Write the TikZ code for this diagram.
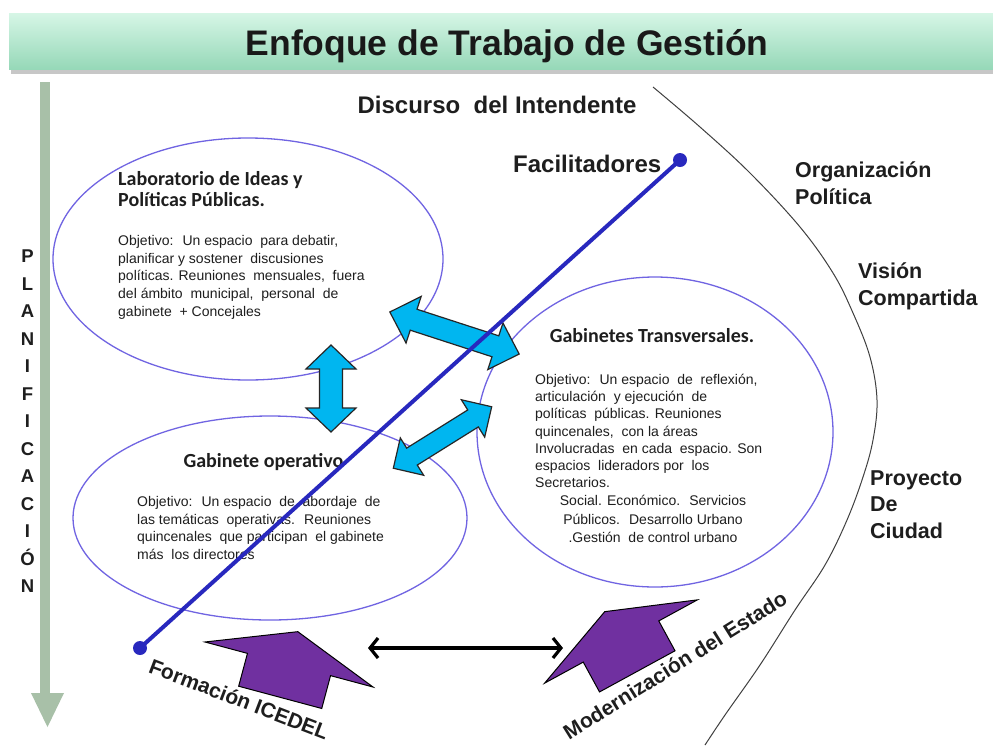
\documentclass[tikz,border=0pt]{standalone}
\usepackage{fontspec}
\setmainfont{Liberation Sans}
\newfontfamily\calib{Carlito}
\usetikzlibrary{shapes.geometric,arrows.meta}
\definecolor{ellblue}{RGB}{112,100,226}
\definecolor{lineblue}{RGB}{40,40,190}
\definecolor{cyanfill}{RGB}{0,182,240}
\definecolor{purp}{RGB}{112,48,160}
\definecolor{sage}{RGB}{168,192,168}
\definecolor{txt}{RGB}{30,30,30}
\definecolor{bartop}{RGB}{214,246,230}
\definecolor{barbot}{RGB}{150,216,184}
\newcommand\fatarrow[7]{%
  \begin{scope}[shift={(#1,#2)},rotate=#3]
    \draw[fat] ({-#4/2},0) -- ({-#4/2+#7},{#5/2}) -- ({-#4/2+#7},{#6/2}) -- ({#4/2-#7},{#6/2}) -- ({#4/2-#7},{#5/2}) -- ({#4/2},0) -- ({#4/2-#7},{-#5/2}) -- ({#4/2-#7},{-#6/2}) -- ({-#4/2+#7},{-#6/2}) -- ({-#4/2+#7},{-#5/2}) -- cycle;
  \end{scope}}
\newcommand\housearrow[3]{%
  \begin{scope}[shift={(#1,#2)},rotate=#3]
    \draw[house] (-87,0) -- (0,-34) -- (87,0) -- (43,0) -- (43,34) -- (-43,34) -- (-43,0) -- cycle;
  \end{scope}}
\begin{document}
\begin{tikzpicture}[x=1pt,y=-1pt,
  ell/.style={ellipse,draw=ellblue,line width=1.3pt,inner sep=0pt},
  ttl/.style={font=\calib\bfseries\fontsize{20}{21.5}\selectfont,text=txt,inner sep=0pt,align=left},
  body/.style={font=\fontsize{14}{17.7}\selectfont,text=txt,inner sep=0pt,align=left},
  side/.style={font=\bfseries\fontsize{21.5}{26.5}\selectfont,text=txt,inner sep=0pt,align=left,anchor=north west},
  rot/.style={font=\bfseries\fontsize{21}{22}\selectfont,text=txt,inner sep=0pt},
  fat/.style={fill=cyanfill,draw=black!85,line width=1.2pt,line join=miter},
  house/.style={fill=purp,draw=black,line width=1pt,line join=miter},
  dot/.style={circle,fill=lineblue,minimum size=14pt,inner sep=0pt},
]
\useasboundingbox (0,0) rectangle (993,745);
\fill[white] (0,0) rectangle (993,745);
% title bar
\fill[black!22] (11,17) rectangle (993,74);
\shade[top color=bartop,bottom color=barbot] (9,13) rectangle (993,69);
\node[font=\bfseries\fontsize{35.5}{38}\selectfont,text=black!90,inner sep=0pt,anchor=base] (title) at (507,55) {Enfoque de Trabajo de Gestión};
% planificacion arrow
\fill[sage] (40,82) rectangle (50,695);
\fill[sage] (31,693) -- (64,693) -- (47.5,727) -- cycle;
\node[font=\bfseries\fontsize{18.5}{27.5}\selectfont,text=txt,inner sep=0pt,align=center,anchor=north] (plan) at (27.5,250) {P\\L\\A\\N\\I\\F\\I\\C\\A\\C\\I\\Ó\\N};
% boundary curve
\draw[black!75,line width=1pt] plot[smooth,tension=0.6] coordinates {(653,87) (700,127) (750,173) (800,227) (833,273) (853,313) (870,357) (877,400) (873,440) (863,477) (847,520) (825,565) (795,610) (760,665) (725,715) (705,745)};
% ellipses
\node[ell,minimum width=390pt,minimum height=242pt] (lab) at (248,259) {};
\node[ell,minimum width=394pt,minimum height=204pt] (ops) at (270,518) {};
\node[ell,minimum width=356pt,minimum height=310pt] (trans) at (655,432) {};
% texts in ellipses
\node[ttl,anchor=north west] (labT) at (118,171) {Laboratorio de Ideas y\\Políticas Públicas.};
\node[body,anchor=north west] (labB) at (118,235) {Objetivo:~ Un espacio~ para debatir,\\planificar y sostener~ discusiones\\políticas. Reuniones~ mensuales,~ fuera\\del ámbito~ municipal,~ personal~ de\\gabinete~ + Concejales};
\node[ttl,anchor=base] (transT) at (652,342) {Gabinetes Transversales.};
\node[body,font=\fontsize{14}{17.2}\selectfont,anchor=north west] (transB) at (535,374) {Objetivo:~ Un espacio~ de~ reflexión,\\articulación~ y ejecución~ de\\políticas~ públicas. Reuniones\\quincenales,~ con la áreas\\Involucradas~ en cada~ espacio. Son\\espacios~ lideradors por~ los\\Secretarios.};
\node[body,font=\fontsize{14}{18.5}\selectfont,align=center,anchor=north] (transC) at (653,495) {Social. Económico.~ Servicios\\Públicos.~ Desarrollo Urbano\\.Gestión~ de control urbano};
\node[ttl,anchor=base] (opsT) at (263.5,467) {Gabinete operativo};
\node[body,anchor=north west] (opsB) at (137,496) {Objetivo:~ Un espacio~ de~ abordaje~ de\\las temáticas~ operativas.~ Reuniones\\quincenales~ que participan~ el gabinete\\más~ los directores};
% top labels
\node[font=\bfseries\fontsize{24}{26}\selectfont,text=txt,inner sep=0pt,anchor=base] (disc) at (497,113) {Discurso~ del Intendente};
\node[font=\bfseries\fontsize{24}{26}\selectfont,text=txt,inner sep=0pt,anchor=base west] (facil) at (513,172) {Facilitadores};
% side labels
\node[side] (org) at (795,162) {Organización\\Política};
\node[side] (vis) at (858,263) {Visión\\Compartida};
\node[side] (proy) at (870,470) {Proyecto\\De\\Ciudad};
% cyan double arrows
\fatarrow{331}{388.5}{90}{87}{50}{23}{24}
\fatarrow{454.5}{333}{-18}{136}{49}{22}{25}
\fatarrow{442.5}{437.5}{32}{116}{44}{20}{22}
% purple arrows
\housearrow{289}{664.5}{-15}
\housearrow{621}{641.5}{28.6}
% black double arrow
\coordinate (bl) at (368,648);
\coordinate (br) at (563,648);
\draw[line width=3.2pt,{Straight Barb[length=8pt,width=20pt]}-{Straight Barb[length=8pt,width=20pt]}] (bl) -- (br);
% blue line
\node[dot] (d1) at (140,648) {};
\node[dot] (d2) at (680,160) {};
\draw[lineblue,line width=4pt] (d1.center) -- (d2.center);
% rotated labels
\node[rot,rotate=-21] (form) at (239,699) {Formación ICEDEL};
\node[rot,rotate=32] (mod) at (675,665) {Modernización del Estado};
\end{tikzpicture}
\end{document}
